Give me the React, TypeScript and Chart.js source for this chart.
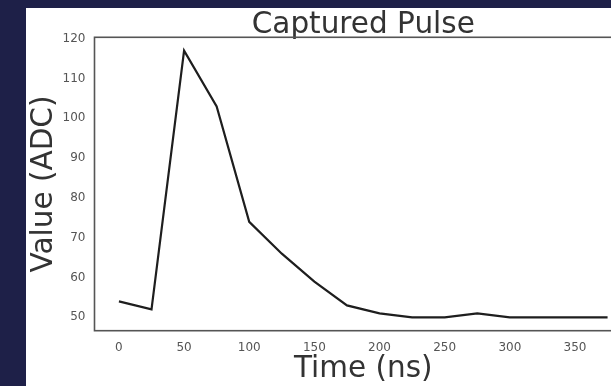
import React, { useEffect, useRef } from "react";
import { Chart, registerables } from "chart.js";

Chart.register(...registerables);

const TIME_NS = [0, 25, 50, 75, 100, 125, 150, 175, 200, 225, 250, 275, 300, 325, 350, 375];
const VALUES_ADC = [54, 52, 117, 103, 74, 66, 59, 53, 51, 50, 50, 51, 50, 50, 50, 50];
const X_TICKS = [0, 50, 100, 150, 200, 250, 300, 350];
const Y_TICKS = [50, 60, 70, 80, 90, 100, 110, 120];
const TITLE = "Captured Pulse";
const X_TITLE = "Time (ns)";
const Y_TITLE = "Value (ADC)";

const FONT = "'DejaVu Sans', sans-serif";
const CANVAS_W = 606;
const CANVAS_H = 378;

const framePlugin = {
  id: "frame",
  afterDatasetsDraw(chart: any) {
    const { ctx, chartArea } = chart;
    ctx.save();
    ctx.strokeStyle = "#555555";
    ctx.lineWidth = 1.6;
    ctx.strokeRect(chartArea.left, chartArea.top, chartArea.right - chartArea.left, chartArea.bottom - chartArea.top);
    ctx.restore();
  },
};

export default function App() {
  const ref = useRef<HTMLCanvasElement | null>(null);

  useEffect(() => {
    if (!ref.current) return;
    const xMin = -18.75;
    const xMax = 393.75;
    const yMin = 46.65;
    const yMax = 120.35;
    const chart = new Chart(ref.current, {
      type: "line",
      data: {
        datasets: [
          {
            data: TIME_NS.map((t, i) => ({ x: t, y: VALUES_ADC[i] })),
            borderColor: "#1e1e1e",
            borderWidth: 2.2,
            pointRadius: 0,
            tension: 0,
            fill: false,
          },
        ],
      },
      options: {
        animation: false,
        responsive: false,
        devicePixelRatio: 1,
        layout: { padding: { left: 0, right: 0, top: 0, bottom: 0 } },
        plugins: {
          legend: { display: false },
          tooltip: { enabled: false },
          title: {
            display: true,
            text: TITLE,
            fullSize: false,
            color: "#333333",
            font: { family: FONT, size: 29.5, weight: "normal", lineHeight: 0.786 },
            padding: { top: 6.1, bottom: 0 },
          },
        },
        scales: {
          x: {
            type: "linear",
            min: xMin,
            max: xMax,
            afterBuildTicks: (scale: any) => {
              scale.ticks = X_TICKS.map((v) => ({ value: v }));
            },
            afterFit: (scale: any) => {
              scale.height = 55.3;
            },
            grid: { display: false, drawTicks: false },
            border: { display: false },
            ticks: {
              color: "#555555",
              font: { family: FONT, size: 12 },
              padding: 10,
              maxRotation: 0,
              autoSkip: false,
            },
            title: {
              display: true,
              text: X_TITLE,
              color: "#333333",
              font: { family: FONT, size: 29.5, lineHeight: 1.2 },
              padding: { top: 0, bottom: -1 },
            },
          },
          y: {
            type: "linear",
            min: yMin,
            max: yMax,
            afterBuildTicks: (scale: any) => {
              scale.ticks = Y_TICKS.map((v) => ({ value: v }));
            },
            afterFit: (scale: any) => {
              scale.width = 68.5;
            },
            grid: { display: false, drawTicks: false },
            border: { display: false },
            ticks: {
              color: "#555555",
              font: { family: FONT, size: 12 },
              padding: 9,
              autoSkip: false,
            },
            title: {
              display: true,
              text: Y_TITLE,
              color: "#333333",
              font: { family: FONT, size: 29.5, lineHeight: 1.2 },
              padding: { top: 1, bottom: 0 },
            },
          },
        },
      },
      plugins: [framePlugin],
    } as any);
    return () => chart.destroy();
  }, []);

  return (
    <div
      style={{
        position: "absolute",
        left: 0,
        top: 0,
        width: 611,
        height: 386,
        background: "#1e2048",
        overflow: "hidden",
      }}
    >
      <div
        style={{
          position: "absolute",
          left: 26,
          top: 8,
          width: 585,
          height: 378,
          background: "#ffffff",
          overflow: "hidden",
        }}
      >
        <canvas
          ref={ref}
          width={CANVAS_W}
          height={CANVAS_H}
          style={{ display: "block", width: CANVAS_W, height: CANVAS_H }}
        />
      </div>
    </div>
  );
}
